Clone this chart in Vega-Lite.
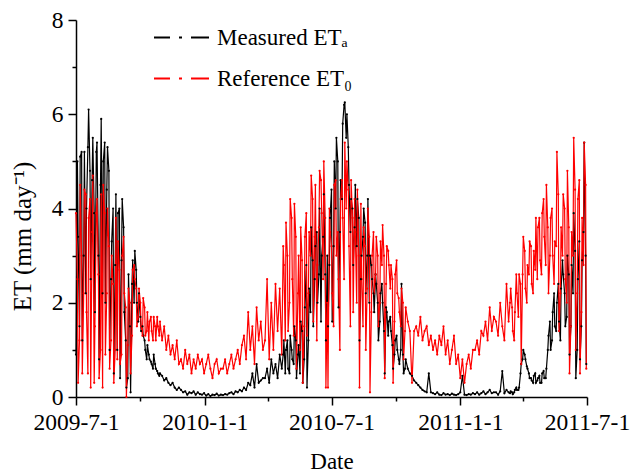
{
  "$schema": "https://vega.github.io/schema/vega-lite/v6.json",
  "width": 511,
  "height": 377,
  "autosize": {"type": "none"},
  "padding": {"left": 76, "top": 20, "right": 43, "bottom": 77},
  "background": "white",
  "config": {
    "view": {"stroke": null},
    "axis": {
      "grid": false,
      "domainColor": "black",
      "domainWidth": 1.5,
      "tickColor": "black",
      "tickWidth": 1.5,
      "labelFont": "Liberation Serif",
      "labelFontSize": 23.5,
      "labelColor": "black",
      "titleFont": "Liberation Serif",
      "titleFontSize": 23,
      "titleFontWeight": "normal",
      "titleColor": "black"
    }
  },
  "data": {
    "values": [
      {"d":0,"a":0.9,"r":3.9},{"d":3,"a":3.4,"r":0.3},{"d":6,"a":5.1,"r":4.5},{"d":9,"a":1.2,"r":0.5},{"d":12,"a":5.2,"r":4.4},{"d":15,"a":4.0,"r":1.8},{"d":18,"a":6.1,"r":3.8},{"d":21,"a":2.5,"r":0.2},{"d":24,"a":5.5,"r":4.7},{"d":27,"a":1.8,"r":1.5},
      {"d":30,"a":5.4,"r":4.2},{"d":33,"a":0.8,"r":0.4},{"d":36,"a":5.9,"r":4.3},{"d":39,"a":5.0,"r":4.5},{"d":42,"a":2.0,"r":0.9},{"d":45,"a":5.3,"r":4.0},{"d":48,"a":1.0,"r":0.6},{"d":51,"a":3.3,"r":3.0},{"d":54,"a":0.5,"r":0.3},{"d":57,"a":4.3,"r":3.8},
      {"d":60,"a":3.9,"r":3.3},{"d":63,"a":0.4,"r":0.7},{"d":66,"a":4.2,"r":3.0},{"d":69,"a":1.8,"r":2.2},{"d":72,"a":0.2,"r":0.0},{"d":75,"a":2.6,"r":2.3},{"d":78,"a":0.1,"r":0.5},{"d":81,"a":2.9,"r":2.7},{"d":84,"a":3.1,"r":2.5},{"d":87,"a":2.0,"r":1.5},
      {"d":90,"a":2.2,"r":2.3},{"d":93,"a":1.4,"r":1.5},{"d":96,"a":1.3,"r":2.1},{"d":99,"a":1.0,"r":1.3},{"d":102,"a":1.1,"r":1.8},{"d":105,"a":0.8,"r":1.6},{"d":108,"a":0.7,"r":1.4},{"d":111,"a":0.9,"r":1.7},{"d":114,"a":0.6,"r":1.2},{"d":117,"a":0.5,"r":1.5},
      {"d":120,"a":0.5,"r":1.6},{"d":123,"a":0.45,"r":1.2},{"d":126,"a":0.35,"r":1.5},{"d":129,"a":0.4,"r":1.0},{"d":132,"a":0.3,"r":1.3},{"d":135,"a":0.25,"r":0.9},{"d":138,"a":0.3,"r":1.1},{"d":141,"a":0.2,"r":0.8},{"d":144,"a":0.15,"r":1.2},{"d":147,"a":0.2,"r":0.7},
      {"d":150,"a":0.15,"r":0.8},{"d":153,"a":0.1,"r":0.6},{"d":156,"a":0.12,"r":1.0},{"d":159,"a":0.05,"r":0.7},{"d":162,"a":0.1,"r":0.9},{"d":165,"a":0.08,"r":0.5},{"d":168,"a":0.12,"r":0.8},{"d":171,"a":0.05,"r":0.6},{"d":174,"a":0.1,"r":0.9},{"d":177,"a":0.06,"r":0.7},
      {"d":180,"a":0.05,"r":0.8},{"d":183,"a":0.08,"r":0.5},{"d":186,"a":0.03,"r":0.7},{"d":189,"a":0.06,"r":0.9},{"d":192,"a":0.02,"r":0.6},{"d":195,"a":0.05,"r":0.4},{"d":198,"a":0.04,"r":0.7},{"d":201,"a":0.07,"r":0.8},{"d":204,"a":0.03,"r":0.5},{"d":207,"a":0.05,"r":0.6},
      {"d":210,"a":0.04,"r":0.6},{"d":213,"a":0.06,"r":0.8},{"d":216,"a":0.05,"r":0.5},{"d":219,"a":0.08,"r":0.7},{"d":222,"a":0.1,"r":0.9},{"d":225,"a":0.06,"r":0.6},{"d":228,"a":0.12,"r":0.8},{"d":231,"a":0.1,"r":1.0},{"d":234,"a":0.15,"r":0.7},{"d":237,"a":0.12,"r":1.1},
      {"d":240,"a":0.2,"r":1.3},{"d":243,"a":0.15,"r":0.8},{"d":246,"a":0.3,"r":1.8},{"d":249,"a":0.25,"r":1.0},{"d":252,"a":0.5,"r":1.5},{"d":255,"a":0.2,"r":0.7},{"d":258,"a":0.7,"r":1.9},{"d":261,"a":0.3,"r":1.2},{"d":264,"a":0.35,"r":1.6},{"d":267,"a":0.4,"r":1.0},
      {"d":270,"a":0.4,"r":1.2},{"d":273,"a":0.6,"r":2.5},{"d":276,"a":0.3,"r":0.8},{"d":279,"a":0.8,"r":2.0},{"d":282,"a":0.5,"r":1.0},{"d":285,"a":0.7,"r":2.4},{"d":288,"a":0.4,"r":1.4},{"d":291,"a":0.9,"r":2.3},{"d":294,"a":0.6,"r":0.9},{"d":297,"a":1.2,"r":2.8},
      {"d":300,"a":1.0,"r":3.7},{"d":303,"a":0.6,"r":1.4},{"d":306,"a":1.3,"r":4.2},{"d":309,"a":0.8,"r":2.5},{"d":312,"a":1.5,"r":4.1},{"d":315,"a":0.4,"r":0.6},{"d":318,"a":1.1,"r":3.0},{"d":321,"a":1.6,"r":3.6},{"d":324,"a":0.3,"r":0.3},{"d":327,"a":1.9,"r":3.4},
      {"d":330,"a":0.2,"r":1.3},{"d":333,"a":2.3,"r":3.5},{"d":336,"a":3.6,"r":4.7},{"d":339,"a":1.5,"r":1.6},{"d":342,"a":3.2,"r":4.5},{"d":345,"a":2.0,"r":2.8},{"d":348,"a":4.0,"r":4.8},{"d":351,"a":3.0,"r":3.9},{"d":354,"a":4.3,"r":5.0},{"d":357,"a":1.2,"r":0.2},
      {"d":360,"a":1.5,"r":0.2},{"d":363,"a":3.8,"r":3.5},{"d":366,"a":1.6,"r":2.2},{"d":369,"a":5.0,"r":4.5},{"d":372,"a":5.5,"r":3.0},{"d":375,"a":1.9,"r":2.5},{"d":378,"a":4.6,"r":4.2},{"d":381,"a":5.8,"r":3.8},{"d":384,"a":6.25,"r":5.4},{"d":387,"a":6.0,"r":5.0},
      {"d":390,"a":4.5,"r":3.2},{"d":393,"a":4.2,"r":4.6},{"d":396,"a":2.8,"r":1.8},{"d":399,"a":4.5,"r":3.5},{"d":402,"a":4.2,"r":4.4},{"d":405,"a":1.2,"r":0.2},{"d":408,"a":3.0,"r":2.5},{"d":411,"a":4.0,"r":3.6},{"d":414,"a":2.2,"r":1.0},{"d":417,"a":4.2,"r":4.0},
      {"d":420,"a":3.0,"r":0.1},{"d":423,"a":2.5,"r":3.0},{"d":426,"a":1.8,"r":2.2},{"d":429,"a":2.4,"r":3.4},{"d":432,"a":1.2,"r":1.5},{"d":435,"a":2.2,"r":3.3},{"d":438,"a":2.0,"r":3.65},{"d":441,"a":0.5,"r":0.4},{"d":444,"a":1.8,"r":3.2},{"d":447,"a":1.6,"r":2.8},
      {"d":450,"a":1.4,"r":2.8},{"d":453,"a":0.6,"r":0.3},{"d":456,"a":1.2,"r":2.6},{"d":459,"a":1.0,"r":2.2},{"d":462,"a":0.7,"r":1.8},{"d":465,"a":2.4,"r":2.3},{"d":468,"a":0.5,"r":0.8},{"d":471,"a":0.8,"r":1.9},{"d":474,"a":0.6,"r":1.6},{"d":477,"a":0.5,"r":1.4},
      {"d":480,"a":0.45,"r":0.3},{"d":483,"a":0.35,"r":1.4},{"d":486,"a":0.3,"r":1.5},{"d":489,"a":0.25,"r":1.3},{"d":492,"a":0.2,"r":1.7},{"d":495,"a":0.15,"r":1.2},{"d":498,"a":0.12,"r":1.4},{"d":501,"a":0.1,"r":1.5},{"d":504,"a":0.5,"r":1.1},{"d":507,"a":0.1,"r":1.3},
      {"d":510,"a":0.08,"r":1.0},{"d":513,"a":0.06,"r":1.2},{"d":516,"a":0.1,"r":0.9},{"d":519,"a":0.05,"r":1.3},{"d":522,"a":0.04,"r":1.1},{"d":525,"a":0.08,"r":1.5},{"d":528,"a":0.05,"r":0.9},{"d":531,"a":0.06,"r":1.2},{"d":534,"a":0.04,"r":0.7},{"d":537,"a":0.07,"r":1.0},
      {"d":540,"a":0.05,"r":1.3},{"d":543,"a":0.04,"r":0.7},{"d":546,"a":0.06,"r":0.9},{"d":549,"a":0.1,"r":0.4},{"d":552,"a":0.45,"r":0.8},{"d":555,"a":0.05,"r":0.3},{"d":558,"a":0.04,"r":0.7},{"d":561,"a":0.06,"r":0.9},{"d":564,"a":0.05,"r":0.6},{"d":567,"a":0.08,"r":1.0},
      {"d":570,"a":0.06,"r":1.0},{"d":573,"a":0.1,"r":1.2},{"d":576,"a":0.05,"r":0.9},{"d":579,"a":0.08,"r":1.4},{"d":582,"a":0.12,"r":1.3},{"d":585,"a":0.06,"r":1.6},{"d":588,"a":0.1,"r":1.2},{"d":591,"a":0.15,"r":1.9},{"d":594,"a":0.08,"r":1.4},{"d":597,"a":0.1,"r":1.7},
      {"d":600,"a":0.1,"r":1.6},{"d":603,"a":0.05,"r":1.3},{"d":606,"a":0.12,"r":2.0},{"d":609,"a":0.55,"r":1.5},{"d":612,"a":0.08,"r":1.2},{"d":615,"a":0.15,"r":2.4},{"d":618,"a":0.1,"r":1.6},{"d":621,"a":0.12,"r":2.3},{"d":624,"a":0.06,"r":1.4},{"d":627,"a":0.15,"r":1.8},
      {"d":630,"a":0.15,"r":2.2},{"d":633,"a":0.2,"r":2.6},{"d":636,"a":0.7,"r":0.7},{"d":639,"a":1.0,"r":3.4},{"d":642,"a":0.8,"r":2.3},{"d":645,"a":0.6,"r":2.8},{"d":648,"a":0.4,"r":3.3},{"d":651,"a":0.35,"r":2.4},{"d":654,"a":0.45,"r":3.1},{"d":657,"a":0.3,"r":3.8},
      {"d":660,"a":0.4,"r":3.6},{"d":663,"a":0.3,"r":2.9},{"d":666,"a":0.5,"r":3.9},{"d":669,"a":0.4,"r":3.4},{"d":672,"a":0.6,"r":4.5},{"d":675,"a":1.3,"r":2.2},{"d":678,"a":1.0,"r":3.8},{"d":681,"a":1.8,"r":3.0},{"d":684,"a":1.5,"r":3.3},{"d":687,"a":2.0,"r":5.2},
      {"d":690,"a":1.6,"r":1.4},{"d":693,"a":2.3,"r":3.6},{"d":696,"a":2.6,"r":4.3},{"d":699,"a":1.5,"r":2.5},{"d":702,"a":3.0,"r":4.8},{"d":705,"a":0.9,"r":0.5},{"d":708,"a":2.8,"r":3.5},{"d":711,"a":3.9,"r":5.5},{"d":714,"a":0.4,"r":1.0},{"d":717,"a":2.5,"r":4.2},{"d":720,"a":0.8,"r":0.5},{"d":723,"a":2.9,"r":3.8},{"d":726,"a":5.4,"r":5.4},{"d":729,"a":0.7,"r":0.6},
      {"d":2,"a":5.0,"r":2.5},{"d":5,"a":1.5,"r":1.2},{"d":8,"a":5.2,"r":3.0},{"d":11,"a":3.0,"r":2.2},{"d":14,"a":2.2,"r":4.3},{"d":17,"a":5.3,"r":0.5},{"d":20,"a":4.8,"r":4.2},{"d":23,"a":4.6,"r":3.5},{"d":26,"a":3.9,"r":0.3},{"d":29,"a":5.2,"r":3.9},
      {"d":32,"a":3.0,"r":2.6},{"d":35,"a":4.5,"r":1.0},{"d":38,"a":2.2,"r":0.2},{"d":41,"a":5.4,"r":3.9},{"d":44,"a":4.4,"r":2.2},{"d":47,"a":4.8,"r":3.2},{"d":50,"a":2.5,"r":1.2},{"d":53,"a":4.0,"r":2.4},{"d":56,"a":2.8,"r":1.0},{"d":59,"a":1.0,"r":0.8},
      {"d":62,"a":4.0,"r":2.7},{"d":65,"a":2.9,"r":0.9},{"d":68,"a":3.6,"r":3.4},{"d":71,"a":1.2,"r":1.9},{"d":74,"a":0.4,"r":1.1},{"d":77,"a":1.5,"r":2.0},{"d":80,"a":2.4,"r":1.3},{"d":83,"a":2.0,"r":2.8},{"d":86,"a":2.7,"r":2.3},{"d":89,"a":1.6,"r":1.7},
      {"d":92,"a":1.7,"r":2.0},{"d":95,"a":1.5,"r":1.3},{"d":98,"a":1.2,"r":1.9},{"d":101,"a":0.8,"r":1.4},{"d":104,"a":0.9,"r":1.2},{"d":107,"a":0.75,"r":1.7},{"d":110,"a":0.6,"r":1.2},{"d":113,"a":0.7,"r":1.5},{"d":116,"a":0.55,"r":1.7},{"d":119,"a":0.45,"r":1.3},
      {"d":296,"a":0.9,"r":3.2},{"d":299,"a":0.5,"r":1.2},{"d":302,"a":1.2,"r":3.0},{"d":305,"a":0.5,"r":2.0},{"d":308,"a":1.0,"r":3.8},{"d":311,"a":0.7,"r":1.3},{"d":314,"a":1.2,"r":3.4},{"d":317,"a":0.9,"r":2.2},{"d":320,"a":0.5,"r":1.0},{"d":323,"a":1.4,"r":2.9},
      {"d":326,"a":0.8,"r":1.5},{"d":329,"a":2.8,"r":3.9},{"d":332,"a":1.2,"r":2.2},{"d":335,"a":1.8,"r":3.0},{"d":338,"a":2.9,"r":4.2},{"d":341,"a":2.5,"r":3.4},{"d":344,"a":3.5,"r":1.2},{"d":347,"a":2.6,"r":3.6},{"d":350,"a":1.6,"r":4.6},{"d":353,"a":3.4,"r":2.5},
      {"d":356,"a":2.6,"r":3.8},{"d":359,"a":3.0,"r":2.0},{"d":362,"a":2.8,"r":4.0},{"d":365,"a":4.4,"r":3.2},{"d":368,"a":3.2,"r":1.5},{"d":371,"a":4.0,"r":4.6},{"d":374,"a":5.0,"r":3.5},{"d":377,"a":3.5,"r":1.0},{"d":380,"a":4.2,"r":4.6},{"d":383,"a":6.2,"r":2.5},
      {"d":386,"a":5.5,"r":4.0},{"d":389,"a":5.3,"r":4.4},{"d":392,"a":3.5,"r":1.5},{"d":395,"a":4.0,"r":3.8},{"d":398,"a":3.6,"r":4.2},{"d":401,"a":3.2,"r":2.0},{"d":404,"a":3.8,"r":3.0},{"d":407,"a":2.5,"r":4.1},{"d":410,"a":3.4,"r":1.5},{"d":413,"a":3.7,"r":3.2},
      {"d":416,"a":3.0,"r":2.3},{"d":419,"a":2.0,"r":3.4},{"d":422,"a":2.8,"r":1.8},{"d":425,"a":2.2,"r":3.5},{"d":428,"a":2.6,"r":2.6},{"d":431,"a":2.0,"r":3.0},{"d":434,"a":1.6,"r":2.0},{"d":437,"a":2.4,"r":2.8},{"d":440,"a":1.4,"r":3.0},{"d":443,"a":1.9,"r":2.4},
      {"d":446,"a":1.3,"r":3.1},{"d":449,"a":1.7,"r":2.3},{"d":452,"a":1.1,"r":2.5},{"d":455,"a":0.9,"r":1.6},{"d":458,"a":1.3,"r":2.9},{"d":461,"a":0.8,"r":2.1},{"d":464,"a":1.0,"r":1.5},{"d":467,"a":0.9,"r":2.0},{"d":470,"a":0.6,"r":1.4},
      {"d":620,"a":0.08,"r":2.0},{"d":623,"a":0.1,"r":1.9},{"d":626,"a":0.1,"r":1.2},{"d":629,"a":0.2,"r":2.6},{"d":632,"a":0.15,"r":1.7},{"d":635,"a":0.5,"r":2.4},{"d":638,"a":0.8,"r":2.6},{"d":641,"a":0.9,"r":3.1},{"d":644,"a":0.65,"r":2.0},{"d":647,"a":0.5,"r":2.6},
      {"d":650,"a":0.4,"r":3.2},{"d":653,"a":0.3,"r":2.2},{"d":656,"a":0.5,"r":2.7},{"d":659,"a":0.35,"r":2.5},{"d":662,"a":0.45,"r":3.8},{"d":665,"a":0.3,"r":2.6},{"d":668,"a":0.55,"r":4.2},{"d":671,"a":0.4,"r":2.8},{"d":674,"a":1.0,"r":3.6},{"d":677,"a":1.6,"r":3.0},
      {"d":680,"a":1.2,"r":4.0},{"d":683,"a":2.2,"r":2.4},{"d":686,"a":1.4,"r":3.2},{"d":689,"a":2.4,"r":4.3},{"d":692,"a":1.2,"r":2.2},{"d":695,"a":2.9,"r":3.0},{"d":698,"a":2.2,"r":4.0},{"d":701,"a":1.7,"r":2.0},{"d":704,"a":2.6,"r":3.6},{"d":707,"a":1.5,"r":1.5},
      {"d":710,"a":2.2,"r":3.0},{"d":713,"a":3.1,"r":4.4},{"d":716,"a":1.0,"r":2.2},{"d":719,"a":3.3,"r":4.6},{"d":722,"a":1.5,"r":1.8},{"d":725,"a":3.5,"r":2.8},{"d":728,"a":3.0,"r":4.5}
    ]
  },
  "transform": [{"fold": ["a", "r"], "as": ["series", "et"]}],
  "mark": {"type": "line", "strokeWidth": 1.2, "point": {"filled": true, "size": 5}},
  "encoding": {
    "x": {
      "field": "d",
      "type": "quantitative",
      "scale": {"domain": [0, 730], "nice": false, "zero": false},
      "axis": {
        "title": "Date",
        "values": [0, 92, 184, 274, 365, 457, 549, 639, 730],
        "labelExpr": "datum.value == 0 ? '2009-7-1' : datum.value == 184 ? '2010-1-1' : datum.value == 365 ? '2010-7-1' : datum.value == 549 ? '2011-1-1' : datum.value == 730 ? '2011-7-1' : ''",
        "tickSize": {"condition": {"test": "indexof([0,184,365,549,730], datum.value) >= 0", "value": 8}, "value": 4},
        "labelOverlap": false,
        "labelFlush": false,
        "labelBound": false,
        "labelPadding": 5,
        "titlePadding": 17
      }
    },
    "y": {
      "field": "et",
      "type": "quantitative",
      "scale": {"domain": [0, 8], "nice": false},
      "axis": {
        "title": "ET (mm day⁻¹)",
        "titleFontSize": 25,
        "values": [0, 1, 2, 3, 4, 5, 6, 7, 8],
        "labelExpr": "datum.value % 2 == 0 ? datum.label : ''",
        "tickSize": {"condition": {"test": "datum.value % 2 == 0", "value": 8}, "value": 4},
        "labelOverlap": false,
        "labelPadding": 5,
        "titleAngle": -90,
        "titleX": -46,
        "titleY": 216,
        "titleAlign": "center",
        "titleBaseline": "alphabetic"
      }
    },
    "color": {
      "field": "series",
      "type": "nominal",
      "scale": {"domain": ["a", "r"], "range": ["#000000", "#ff0000"]},
      "legend": {
        "title": null,
        "orient": "none",
        "legendX": 77,
        "legendY": -11,
        "symbolType": "stroke",
        "symbolSize": 3025,
        "symbolStrokeWidth": 2,
        "symbolDash": [16, 9, 3, 9, 18, 200],
        "labelFont": "Liberation Serif",
        "labelFontSize": 23,
        "labelColor": "black",
        "labelOffset": 7,
        "rowPadding": -5,
        "labelExpr": "datum.value == 'a' ? 'Measured ETₐ' : 'Reference ET₀'"
      }
    }
  }
}
